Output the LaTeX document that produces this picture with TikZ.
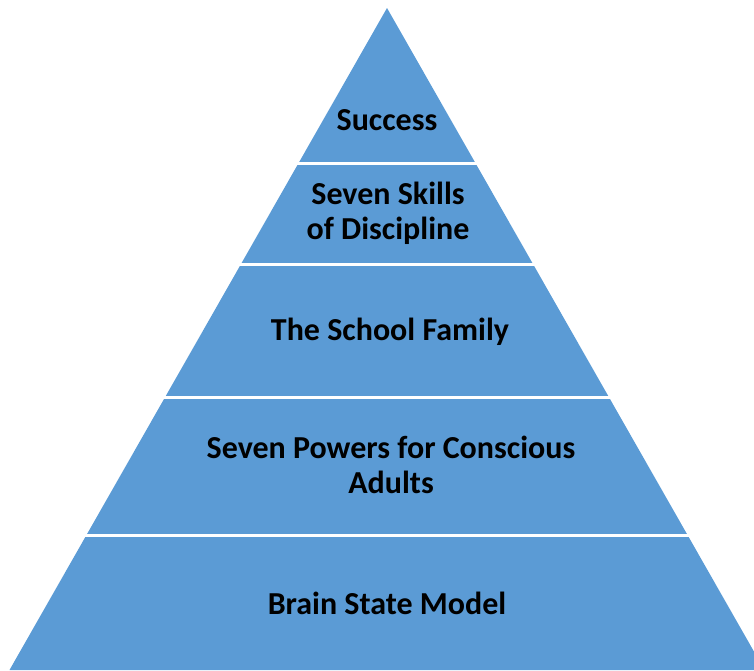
\documentclass[tikz,border=0pt]{standalone}
\usepackage{fontspec}
\setmainfont{Carlito}
\definecolor{pyrblue}{HTML}{5B9BD5}
\begin{document}
\begin{tikzpicture}[x=1pt,y=-1pt,
  layer/.style={fill=pyrblue},
  gapline/.style={draw=white,line width=3pt},
  lbl/.style={font=\bfseries\fontsize{32}{35}\selectfont,align=center,text=black,inner sep=0pt}]
\useasboundingbox (0,0) rectangle (754,670);
\clip (0,0) rectangle (754,670);
\coordinate (apex) at (387,8);
\coordinate (bl) at (9.5,670);
\coordinate (br) at (764.5,670);
\fill[layer] (apex) -- (br) -- (bl) -- cycle;
\foreach \y in {163,264,397,535}{
  \draw[gapline] (0,\y) -- (754,\y);
}
\node[lbl] (l1) at (387,120) {Success};
\node[lbl] (l2) at (388,213) {Seven Skills\\of Discipline};
\node[lbl] (l3) at (390,332) {The School Family};
\node[lbl] (l4) at (391,465) {Seven Powers for Conscious\\Adults};
\node[lbl] (l5) at (387,603) {Brain State Model};
\end{tikzpicture}
\end{document}
